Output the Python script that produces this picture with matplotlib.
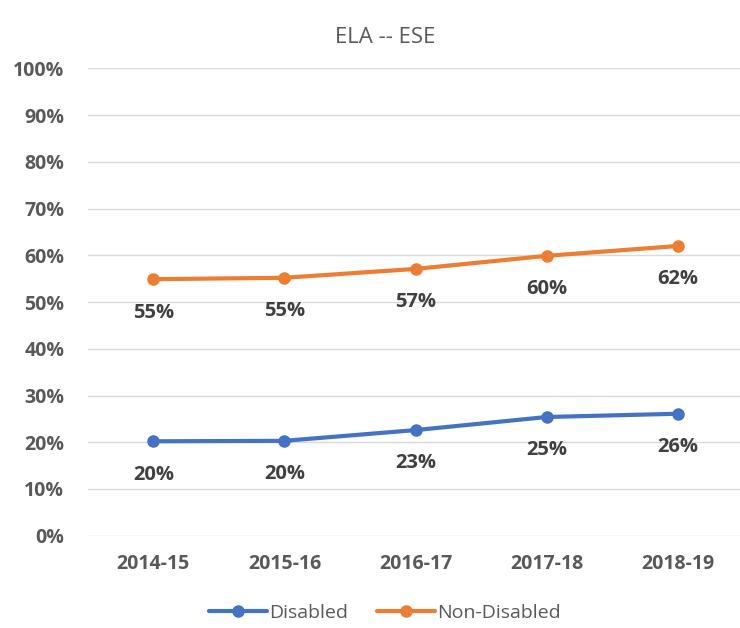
import matplotlib.pyplot as plt

# data
years = ["2014-15", "2015-16", "2016-17", "2017-18", "2018-19"]
disabled = [20.2, 20.3, 22.6, 25.4, 26.1]
non_disabled = [54.9, 55.2, 57.1, 59.9, 62.0]
y_ticks = list(range(0, 101, 10))

blue = "#4472C4"
orange = "#ED7D31"
grey = "#595959"
dark = "#404040"

plt.rcParams['font.family'] = ['Open Sans', 'DejaVu Sans']

fig = plt.figure(figsize=(7.4, 6.28), dpi=100)
ax = fig.add_axes([0.1186, 0.147, 0.886, 0.744])

x = list(range(len(years)))
ax.plot(x, disabled, color=blue, lw=3, marker="o", ms=8, label="Disabled",
        solid_capstyle="round", zorder=3)
ax.plot(x, non_disabled, color=orange, lw=3, marker="o", ms=8, label="Non-Disabled",
        solid_capstyle="round", zorder=3)

# data labels below each point
for series in (disabled, non_disabled):
    for xi, v in zip(x, series):
        ax.annotate(f"{v:.0f}%", (xi, v), xytext=(0, -24), textcoords="offset points",
                    ha="center", va="center", fontsize=14.5, fontweight="bold", color=dark)

ax.set_xlim(-0.5, len(years) - 0.5)
ax.set_ylim(0, 100)
ax.set_yticks(y_ticks)
ax.set_yticklabels([f"{t}%" for t in y_ticks])
ax.set_xticks(x)
ax.set_xticklabels(years)
ax.tick_params(axis="both", length=0, labelsize=14, labelcolor=grey)
ax.tick_params(axis="y", pad=17)
ax.tick_params(axis="x", pad=13)
for lab in ax.get_xticklabels() + ax.get_yticklabels():
    lab.set_fontweight("bold")

ax.grid(axis="y", color="#D9D9D9", lw=1)
ax.set_axisbelow(True)
for s in ax.spines.values():
    s.set_visible(False)

fig.text(0.52, 0.94, "ELA -- ESE", ha="center", va="center", fontsize=16, color=grey)

ax.legend(loc="center", bbox_to_anchor=(0.52, 0.024), bbox_transform=fig.transFigure,
          ncol=2, frameon=False, fontsize=14, labelcolor=grey, handlelength=3,
          handletextpad=0.1, columnspacing=1.5)

fig.savefig("out.png", dpi=100)
